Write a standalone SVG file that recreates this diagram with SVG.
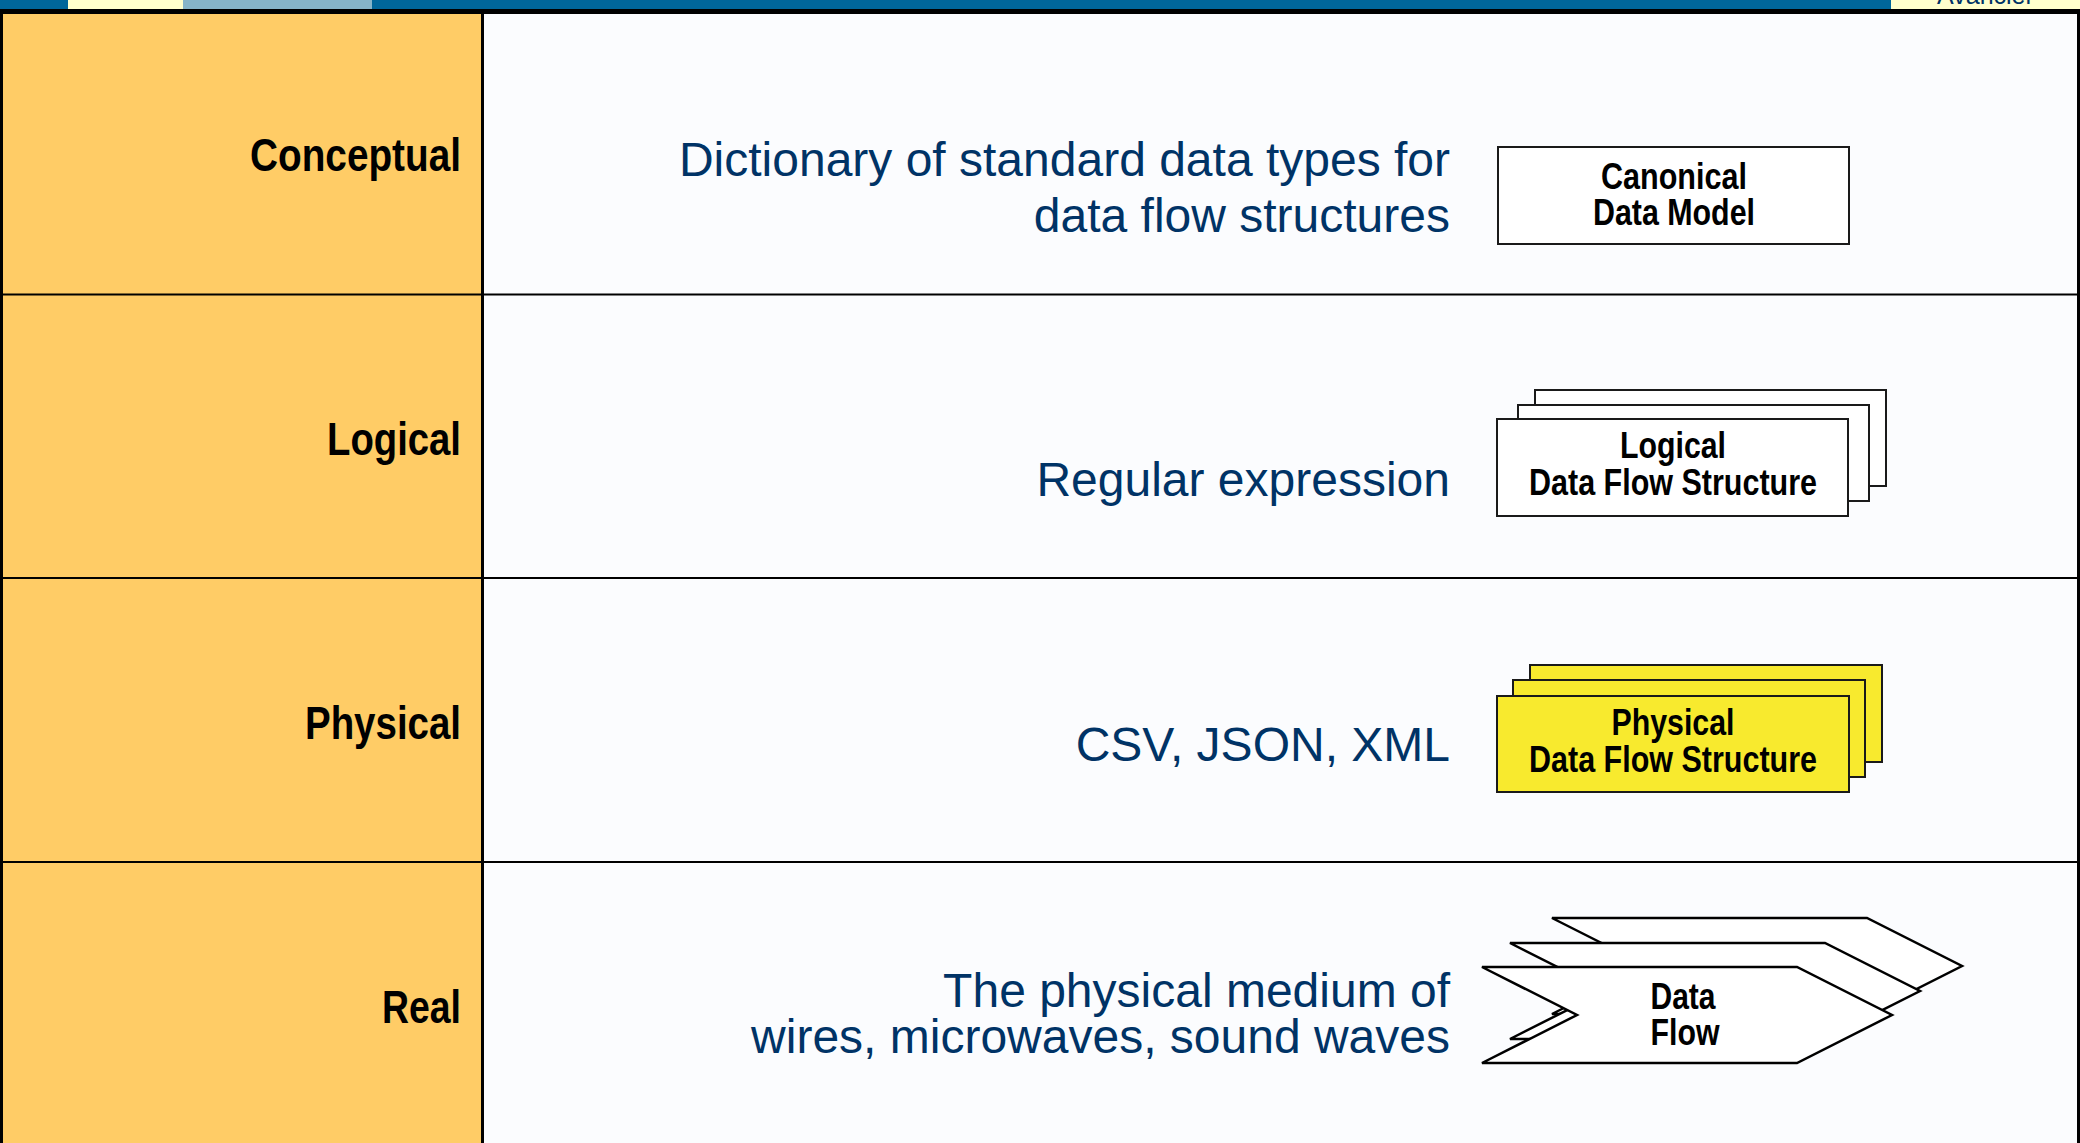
<svg xmlns="http://www.w3.org/2000/svg" width="2080" height="1143" viewBox="0 0 2080 1143">
  <style>
    .label { font-family: "Liberation Sans", Arial, sans-serif; font-weight: bold; font-size: 47px; fill: #000; text-anchor: end; }
    .desc { font-family: "Liberation Sans", Arial, sans-serif; font-size: 48px; fill: #003366; text-anchor: end; }
    .boxtxt { font-family: "Liberation Sans", Arial, sans-serif; font-weight: bold; font-size: 37px; fill: #000; text-anchor: middle; }
    .box { stroke: #1a1a1a; stroke-width: 2; }
    .white { fill: #ffffff; }
    .yellow { fill: #F8EA2E; }
    .flow { fill: #ffffff; stroke: #000; stroke-width: 2.5; stroke-linejoin: miter; }
    .rule { stroke: #000; stroke-width: 2; }
  </style>

  <!-- header strip -->
  <g id="header">
    <rect x="0" y="0" width="2080" height="9" fill="#00669A"/>
    <rect x="68" y="0" width="115" height="9" fill="#FFFFCC"/>
    <rect x="183" y="0" width="189" height="9" fill="#86B4C8"/>
    <rect x="1891" y="0" width="189" height="9" fill="#FFFFCC"/>
    <text x="1937" y="4" font-family="Liberation Sans, Arial, sans-serif" font-size="25" fill="#003366">Avancier</text>
  </g>

  <!-- table background -->
  <g id="table">
    <rect x="0" y="9" width="2080" height="1134" fill="#000"/>
    <rect x="3" y="14" width="478" height="1129" fill="#FFCC66"/>
    <rect x="484" y="14" width="1593" height="1129" fill="#FBFCFE"/>
  </g>

  <!-- row separators -->
  <g id="grid">
    <line class="rule" x1="0" y1="294.5" x2="2080" y2="294.5"/>
    <line class="rule" x1="0" y1="578" x2="2080" y2="578"/>
    <line class="rule" x1="0" y1="862" x2="2080" y2="862"/>
  </g>

  <g id="connectors"/>

  <!-- Conceptual layer -->
  <g id="row-conceptual">
    <text class="label" x="461" y="171" textLength="211" lengthAdjust="spacingAndGlyphs">Conceptual</text>
    <text class="desc" x="1450" y="176">Dictionary of standard data types for</text>
    <text class="desc" x="1450" y="232">data flow structures</text>
  </g>
  <g id="canonical-data-model">
    <rect class="box white" x="1498" y="147" width="351" height="97"/>
    <text class="boxtxt" x="1674" y="189" textLength="146" lengthAdjust="spacingAndGlyphs">Canonical</text>
    <text class="boxtxt" x="1674" y="225" textLength="162" lengthAdjust="spacingAndGlyphs">Data Model</text>
  </g>

  <!-- Logical layer -->
  <g id="row-logical">
    <text class="label" x="461" y="455" textLength="134" lengthAdjust="spacingAndGlyphs">Logical</text>
    <text class="desc" x="1450" y="496">Regular expression</text>
  </g>
  <g id="logical-data-flow-structure">
    <rect class="box white" x="1535" y="390" width="351" height="96"/>
    <rect class="box white" x="1518" y="405" width="351" height="96"/>
    <rect class="box white" x="1497" y="419" width="351" height="97"/>
    <text class="boxtxt" x="1673" y="458" textLength="106" lengthAdjust="spacingAndGlyphs">Logical</text>
    <text class="boxtxt" x="1673" y="495" textLength="288" lengthAdjust="spacingAndGlyphs">Data Flow Structure</text>
  </g>

  <!-- Physical layer -->
  <g id="row-physical">
    <text class="label" x="461" y="739" textLength="156" lengthAdjust="spacingAndGlyphs">Physical</text>
    <text class="desc" x="1450" y="761">CSV, JSON, XML</text>
  </g>
  <g id="physical-data-flow-structure">
    <rect class="box yellow" x="1530" y="665" width="352" height="97"/>
    <rect class="box yellow" x="1513" y="680" width="352" height="97"/>
    <rect class="box yellow" x="1497" y="696" width="352" height="96"/>
    <text class="boxtxt" x="1673" y="735" textLength="123" lengthAdjust="spacingAndGlyphs">Physical</text>
    <text class="boxtxt" x="1673" y="772" textLength="288" lengthAdjust="spacingAndGlyphs">Data Flow Structure</text>
  </g>

  <!-- Real layer -->
  <g id="row-real">
    <text class="label" x="461" y="1023" textLength="79" lengthAdjust="spacingAndGlyphs">Real</text>
    <text class="desc" x="1450" y="1007">The physical medium of</text>
    <text class="desc" x="1450" y="1053">wires, microwaves, sound waves</text>
  </g>
  <g id="data-flow">
    <polygon class="flow" points="1552,918 1867,918 1962,966 1867,1014 1552,1014 1647,966"/>
    <polygon class="flow" points="1510,943 1825,943 1920,991 1825,1039 1510,1039 1605,991"/>
    <polygon class="flow" points="1482,967 1797,967 1892,1015 1797,1063 1482,1063 1577,1015"/>
    <text class="boxtxt" x="1683" y="1009" textLength="65" lengthAdjust="spacingAndGlyphs">Data</text>
    <text class="boxtxt" x="1685" y="1045" textLength="69" lengthAdjust="spacingAndGlyphs">Flow</text>
  </g>
</svg>
